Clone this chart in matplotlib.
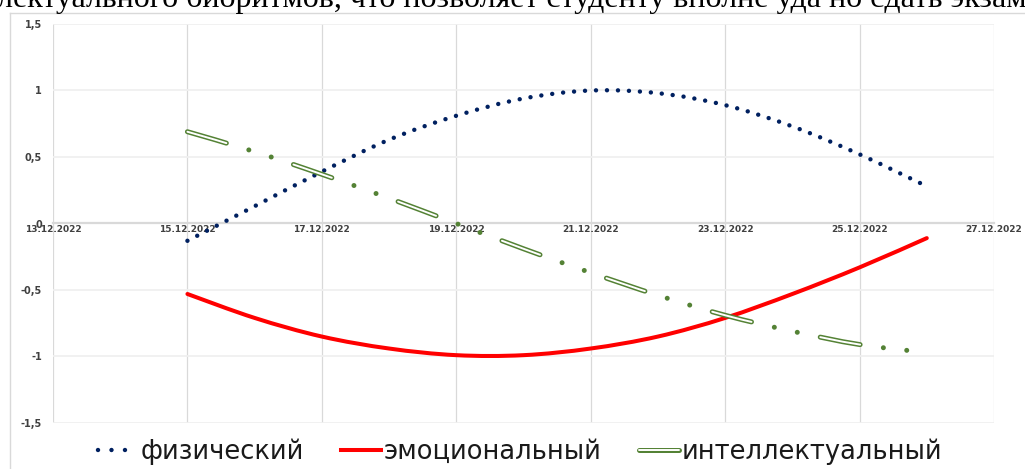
import matplotlib
matplotlib.use("Agg")
import matplotlib.pyplot as plt
import matplotlib.dates as mdates
from matplotlib.lines import Line2D
from matplotlib.patches import PathPatch
from matplotlib.path import Path
from matplotlib.legend_handler import HandlerTuple
import pandas as pd

plt.rcParams['lines.scale_dashes'] = False
plt.rcParams['font.family'] = ['DejaVu Sans']

# ---- data ----
dates = pd.date_range("2022-12-15", "2022-12-26", freq="D")
physical = [-0.13, 0.13, 0.39, 0.63, 0.81, 0.94, 1.00, 0.98, 0.89, 0.73, 0.52, 0.28]
emotional = [-0.53, -0.71, -0.85, -0.94, -0.99, -0.99, -0.94, -0.85, -0.71, -0.53, -0.33, -0.11]
intellectual = [0.69, 0.54, 0.37, 0.19, 0.00, -0.19, -0.37, -0.54, -0.69, -0.81, -0.91, -0.97]
series_names = ["физический", "эмоциональный", "интеллектуальный"]
xtick_dates = pd.date_range("2022-12-13", "2022-12-27", freq="2D")
ytick_values = [-1.5, -1, -0.5, 0, 0.5, 1, 1.5]
ytick_labels = ["-1,5", "-1", "-0,5", "0", "0,5", "1", "1,5"]
header_text = "лектуального биоритмов, что позволяет студенту вполне уда но сдать экзам"


def smooth_path(xs, ys):
    """Smoothed line through the data points (like a spreadsheet 'smoothed line')."""
    n = len(xs)
    verts = [(xs[0], ys[0])]
    codes = [Path.MOVETO]
    for i in range(n - 1):
        a = i - 1 if i > 0 else i
        d = i + 2 if i + 2 < n else i + 1
        c1 = (xs[i] + (xs[i + 1] - xs[a]) / 6, ys[i] + (ys[i + 1] - ys[a]) / 6)
        c2 = (xs[i + 1] - (xs[d] - xs[i]) / 6, ys[i + 1] - (ys[d] - ys[i]) / 6)
        verts += [c1, c2, (xs[i + 1], ys[i + 1])]
        codes += [Path.CURVE4] * 3
    return Path(verts, codes)


W, H = 1025, 469
fig = plt.figure(figsize=(W / 100, H / 100), dpi=100)
fig.patch.set_facecolor('white')

ax = fig.add_axes([53 / W, 1 - 423 / H, (994 - 53) / W, (423 - 24) / H])
ax.set_xlim(xtick_dates[0], xtick_dates[-1])
ax.set_ylim(-1.5, 1.5)

navy = '#002060'
red = '#FF0000'
green = '#548235'

xnum = list(mdates.date2num(dates))


def add_curve(values, **kw):
    p = PathPatch(smooth_path(xnum, values), fill=False, transform=ax.transData, **kw)
    ax.add_patch(p)
    return p


gap = 16.9
dash = 29.2
# physical: round dots
add_curve(physical, edgecolor=navy, lw=3.2, linestyle=(0, (0.01, 7.9)),
          capstyle='round', zorder=3)
# emotional: solid red
add_curve(emotional, edgecolor=red, lw=2.9, capstyle='round', zorder=3)
# intellectual: long dash dot dot, double (outlined) line
add_curve(intellectual, edgecolor=green, lw=3.6,
          linestyle=(0, (dash, gap, 0.01, gap, 0.01, gap)),
          capstyle='round', zorder=4)
add_curve(intellectual, edgecolor='white', lw=1.4,
          linestyle=(0, (dash, 3 * gap + 0.02)), capstyle='round', zorder=5)

# axes styling
for s in ['top', 'right', 'left']:
    ax.spines[s].set_visible(False)
ax.spines['bottom'].set_position(('data', 0))
ax.spines['bottom'].set_color('#D9D9D9')
ax.spines['bottom'].set_linewidth(1.6)
ax.spines['bottom'].set_zorder(1)

ax.set_xticks(xtick_dates)
ax.xaxis.set_major_formatter(mdates.DateFormatter('%d.%m.%Y'))
ax.set_yticks(ytick_values)
ax.set_yticklabels(ytick_labels)
ax.tick_params(axis='x', length=0, pad=1.2, labelsize=6.5, labelcolor='#404040')
ax.tick_params(axis='y', length=0, pad=8, labelsize=7, labelcolor='#404040')
for lbl in ax.get_xticklabels() + ax.get_yticklabels():
    lbl.set_fontweight('bold')

ax.grid(axis='x', color='#D9D9D9', lw=0.9)
ax.grid(axis='y', color='#F0F0F0', lw=1.3)
ax.set_axisbelow(True)

# legend
h_phys = Line2D([], [], color=navy, lw=3.2, linestyle=(0, (0.01, 9.7)), dash_capstyle='round')
h_emo = Line2D([], [], color=red, lw=2.9)
h_int_o = Line2D([], [], color=green, lw=3.6, solid_capstyle='round')
h_int_i = Line2D([], [], color='white', lw=1.4, solid_capstyle='round')
fig.legend([h_phys, h_emo, (h_int_o, h_int_i)], series_names,
           handler_map={tuple: HandlerTuple(ndivide=1, pad=0)},
           loc='center', bbox_to_anchor=(520 / W, 1 - 452 / H), ncol=3,
           frameon=False, fontsize=18.5, handlelength=1.56, handletextpad=0.1,
           columnspacing=1.45, borderpad=0, labelcolor='#1a1a1a')

# chart border (partially visible)
fig.add_artist(Line2D([10 / W, 10 / W], [0, 1 - 13 / H], transform=fig.transFigure,
                      color='#D9D9D9', lw=1))
fig.add_artist(Line2D([10 / W, 1], [1 - 13 / H, 1 - 13 / H], transform=fig.transFigure,
                      color='#D9D9D9', lw=1))

# document text above the chart (cut at the top)
t = fig.text(-3 / W, 1 - 7 / H, header_text, fontsize=20, family='Liberation Serif',
             va='baseline', ha='left', color='black')
fig.canvas.draw()
w = t.get_window_extent().width
t.set_fontsize(20 * 1030 / w)

fig.savefig('out.png', dpi=100, facecolor='white')
